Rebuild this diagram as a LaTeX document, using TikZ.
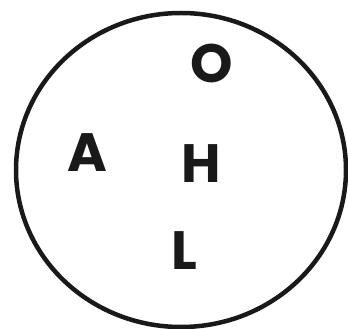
\documentclass[tikz,border=0pt]{standalone}
\usepackage{fontspec}
\usetikzlibrary{shapes.geometric}
\setmainfont{Poppins}[BoldFont={* Bold}]
\begin{document}
\begin{tikzpicture}[x=1pt,y=1pt,
  letter/.style={font=\fontsize{54}{60}\selectfont\bfseries, text=black!90, inner sep=0pt, anchor=base}]
\useasboundingbox (0,0) rectangle (348,329);
\node[draw=black!90, line width=4.5pt, ellipse, minimum width=330pt, minimum height=314pt, inner sep=0pt] (ring) at (181,159) {};
\node[letter] (O) at (212,246) {O};
\node[letter] (A) at (87,157) {A};
\node[letter] (H) at (201,146) {H};
\node[letter] (L) at (184,59) {L};
\end{tikzpicture}
\end{document}
